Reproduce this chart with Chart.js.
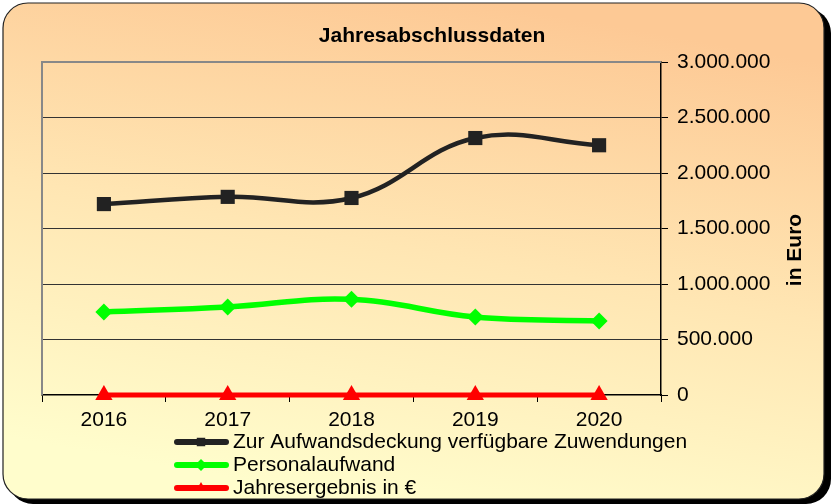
<!DOCTYPE html>
<html>
<head>
<meta charset="utf-8">
<script src="https://cdn.jsdelivr.net/npm/chart.js@4.4.0/dist/chart.umd.min.js"></script>
<style>
body { margin: 0; background: #fff; }
</style>
</head>
<body>
<canvas id="chart" width="831" height="504"></canvas>
<script>
// data
const years = ["2016", "2017", "2018", "2019", "2020"];
const zuwendungen = [1720000, 1785000, 1775000, 2315000, 2250000];
const personal = [748000, 793000, 862000, 703000, 667000];
const ergebnis = [0, 0, 0, 0, 0];
const yTicks = [0, 500000, 1000000, 1500000, 2000000, 2500000, 3000000];
const seriesNames = ["Zur Aufwandsdeckung verfügbare Zuwendungen", "Personalaufwand", "Jahresergebnis in €"];
const seriesColors = ["#222222", "#00ff00", "#ff0000"];
const seriesMarkers = ["rect", "rectRot", "triangle"];

const FONT = "'Liberation Sans', Arial, sans-serif";

function fmt(v) {
    return String(v).replace(/\B(?=(\d{3})+(?!\d))/g, ".");
}

// background box, title, plot frame, axis title and legend
const decoPlugin = {
    id: "deco",
    beforeDraw(chart) {
        const ctx = chart.ctx;
        ctx.save();
        // shadow
        ctx.fillStyle = "#000";
        ctx.beginPath();
        ctx.roundRect(8, 8, 823, 496, 25);
        ctx.fill();
        // box
        const g = ctx.createLinearGradient(470, 0, 380, 504);
        g.addColorStop(0, "#fdc995");
        g.addColorStop(0.5, "#ffe6b3");
        g.addColorStop(1, "#fffdcc");
        ctx.fillStyle = g;
        ctx.beginPath();
        ctx.roundRect(3, 3, 821, 496, 25);
        ctx.fill();
        ctx.strokeStyle = "#222";
        ctx.lineWidth = 1.2;
        ctx.stroke();
        // title
        ctx.fillStyle = "#000";
        ctx.font = "bold 21px " + FONT;
        ctx.textAlign = "center";
        ctx.textBaseline = "middle";
        ctx.fillText("Jahresabschlussdaten", 432, 36);
        ctx.restore();
    },
    beforeDatasetsDraw(chart) {
        const a = chart.chartArea;
        const ctx = chart.ctx;
        ctx.save();
        ctx.strokeStyle = "#888";
        ctx.lineWidth = 2;
        ctx.beginPath();
        ctx.moveTo(a.left, a.bottom);
        ctx.lineTo(a.left, a.top);
        ctx.lineTo(a.right, a.top);
        ctx.stroke();
        ctx.restore();
    },
    afterDraw(chart) {
        const ctx = chart.ctx;
        ctx.save();
        // y axis title
        ctx.translate(795, 250);
        ctx.rotate(-Math.PI / 2);
        ctx.fillStyle = "#000";
        ctx.font = "bold 21px " + FONT;
        ctx.textAlign = "center";
        ctx.textBaseline = "middle";
        ctx.fillText("in Euro", 0, 0);
        ctx.restore();

        // legend
        const rows = [442, 465, 488];
        const markRadius = [6, 6, 6];
        ctx.save();
        ctx.font = "21px " + FONT;
        ctx.textBaseline = "middle";
        ctx.textAlign = "left";
        seriesNames.forEach((name, i) => {
            const y = rows[i];
            ctx.strokeStyle = seriesColors[i];
            ctx.fillStyle = seriesColors[i];
            ctx.lineWidth = 6;
            ctx.lineCap = "round";
            ctx.beginPath();
            ctx.moveTo(177, y);
            ctx.lineTo(226, y);
            ctx.stroke();
            Chart.helpers.drawPoint(ctx, {pointStyle: seriesMarkers[i], radius: markRadius[i], borderWidth: 0, rotation: 0}, 201, y);
            ctx.fillStyle = "#000";
            ctx.fillText(name, 233, y);
        });
        ctx.restore();
    }
};

new Chart(document.getElementById("chart"), {
    type: "line",
    data: {
        labels: years,
        datasets: [{
            label: seriesNames[0],
            data: zuwendungen,
            borderColor: seriesColors[0],
            backgroundColor: seriesColors[0],
            borderWidth: 4.5,
            pointStyle: seriesMarkers[0],
            pointRadius: 10,
            pointBorderWidth: 0,
            tension: 0.4,
            clip: false,
        }, {
            label: seriesNames[1],
            data: personal,
            borderColor: seriesColors[1],
            backgroundColor: seriesColors[1],
            borderWidth: 5.5,
            pointStyle: seriesMarkers[1],
            pointRadius: 8.5,
            pointBorderWidth: 0,
            tension: 0.4,
            clip: false,
        }, {
            label: seriesNames[2],
            data: ergebnis,
            borderColor: seriesColors[2],
            backgroundColor: seriesColors[2],
            borderWidth: 5,
            pointStyle: seriesMarkers[2],
            pointRadius: 10,
            pointBorderWidth: 0,
            tension: 0.4,
            clip: false,
        }],
    },
    options: {
        responsive: false,
        animation: false,
        layout: {
            padding: {left: 42, top: 62, right: 0, bottom: 0},
        },
        plugins: {
            legend: {display: false},
            tooltip: {enabled: false},
        },
        scales: {
            x: {
                offset: true,
                ticks: {
                    color: "#000",
                    font: {family: FONT, size: 21},
                    padding: 6,
                    maxRotation: 0,
                },
                grid: {
                    offset: true,
                    drawOnChartArea: false,
                    tickLength: 7,
                    color: "#000",
                },
                border: {color: "#000", width: 1.5},
                afterFit: (s) => { s.height = 109; },
            },
            y: {
                position: "right",
                min: 0,
                max: 3000000,
                afterBuildTicks: (s) => { s.ticks = yTicks.map((v) => ({value: v})); },
                ticks: {
                    callback: (v) => fmt(v),
                    color: "#000",
                    font: {family: FONT, size: 21},
                    padding: 9,
                },
                grid: {
                    color: (c) => (c.tick && (c.tick.value === 0 || c.tick.value === 3000000)) ? "rgba(0,0,0,0)" : "#333",
                    borderDash: [1, 1],
                    tickColor: "#000",
                    tickBorderDash: [],
                    tickLength: 7,
                },
                border: {color: "#000", width: 1.5},
                afterFit: (s) => { s.width = 170; },
            },
        },
    },
    plugins: [decoPlugin],
});
</script>
</body>
</html>
